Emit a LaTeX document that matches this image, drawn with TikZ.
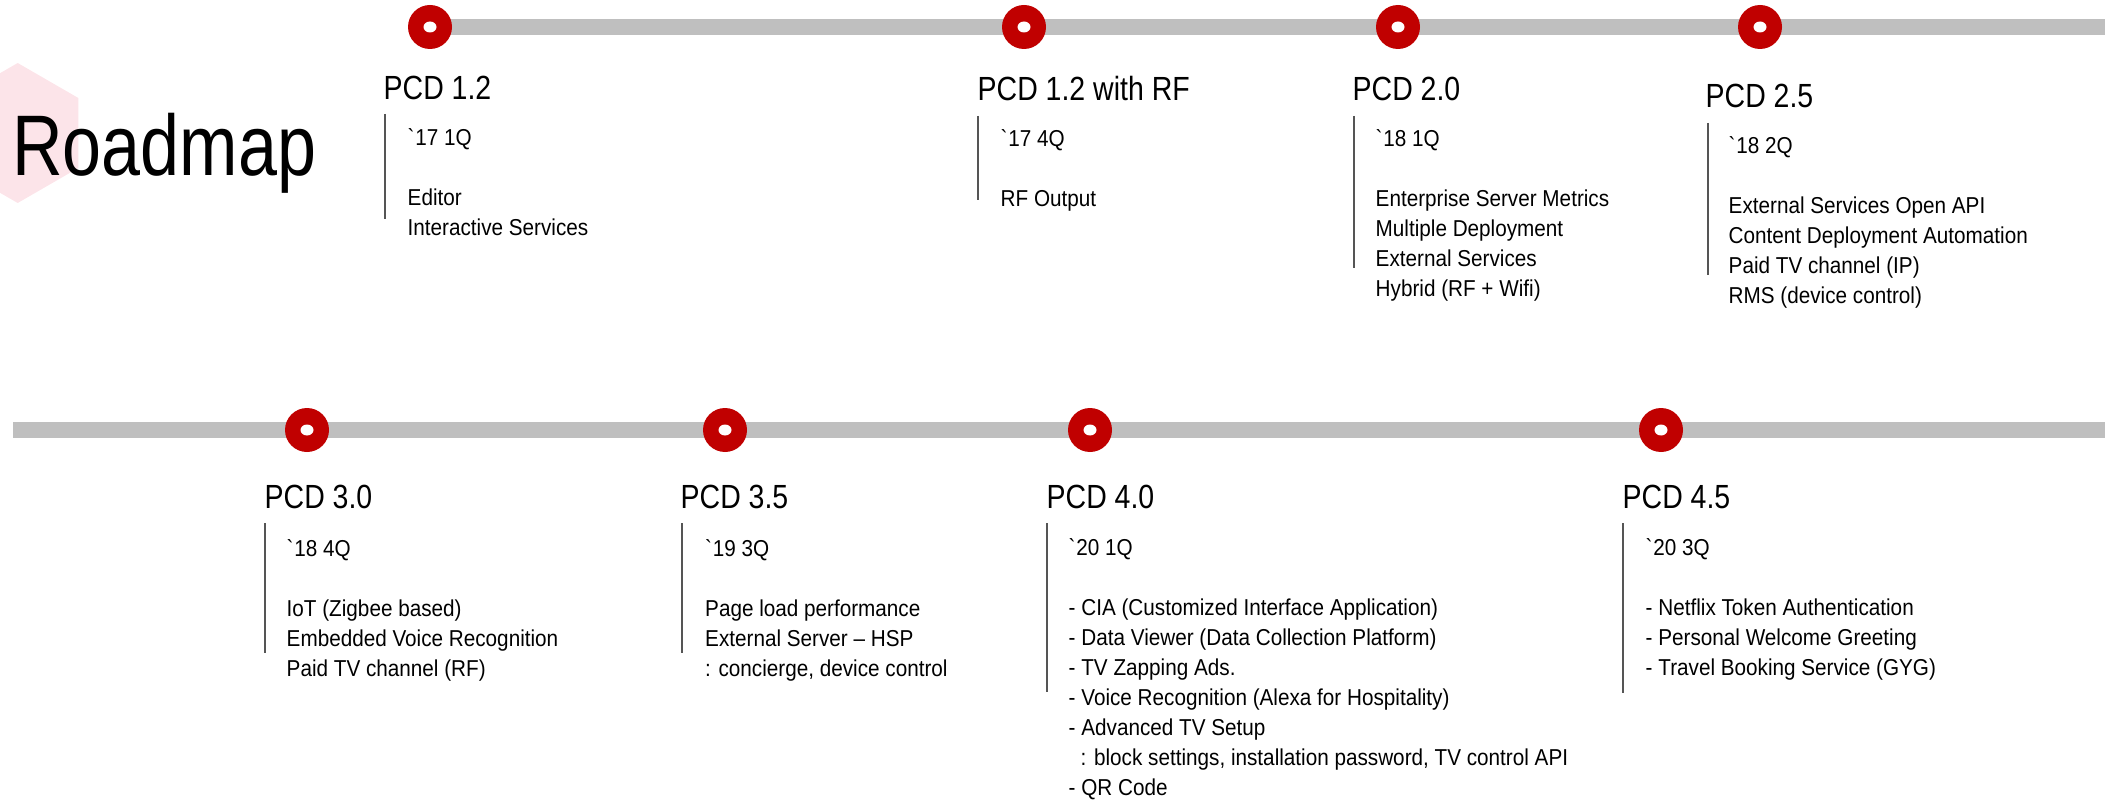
\documentclass[tikz,border=0pt]{standalone}
\usepackage{fontspec}
\setmainfont{Liberation Sans}
\newfontfamily\titlefont[FakeStretch=0.815]{Liberation Sans}
\newfontfamily\headfont[FakeStretch=0.85]{Liberation Sans}
\newfontfamily\bodyfont[FakeStretch=0.90]{Liberation Sans}
\definecolor{mkred}{HTML}{C00000}
\definecolor{trackgray}{HTML}{BFBFBF}
\definecolor{hexpink}{RGB}{252,228,233}
\definecolor{bargray}{HTML}{555555}
\begin{document}
\begin{tikzpicture}[x=1pt,y=-1pt,
  track/.style={draw=trackgray,line width=16pt},
  marker/.style={circle,fill=mkred,minimum size=44pt,inner sep=0pt,
    path picture={\fill[white] (path picture bounding box.center) ellipse (6.5 and 5.5);}},
  heading/.style={anchor=base west,inner sep=0pt,font=\headfont\fontsize{33.5}{40}\selectfont},
  bodytext/.style={anchor=base west,inner sep=0pt,font=\bodyfont\fontsize{23}{30}\selectfont},
  sidebar/.style={draw=bargray,line width=2pt}]
\useasboundingbox (0,0) rectangle (2116,802);
% hexagon
\fill[hexpink] (17.7,133) +(90:70) -- +(30:70) -- +(-30:70) -- +(-90:70) -- +(-150:70) -- +(150:70) -- cycle;
\node[anchor=base west,inner sep=0pt,font=\titlefont\fontsize{86}{100}\selectfont] (title) at (12,176) {Roadmap};
% track coordinates
\coordinate (p1) at (430,27);
\coordinate (p2) at (1024,27);
\coordinate (p3) at (1398,27);
\coordinate (p4) at (1760,27);
\coordinate (tend) at (2105,27);
\coordinate (bstart) at (13,430);
\coordinate (p5) at (307,430);
\coordinate (p6) at (725,430);
\coordinate (p7) at (1090,430);
\coordinate (p8) at (1661,430);
\coordinate (bend) at (2105,430);
\draw[track] (p1) -- (tend);
\draw[track] (bstart) -- (bend);
\foreach \i in {1,...,8} {\node[marker] (m\i) at (p\i) {};}
% ---- top row
% PCD 1.2
\node[heading] (h1) at (383.5,100) {PCD 1.2};
\coordinate (s1a) at (385,114); \coordinate (s1b) at (385,219);
\draw[sidebar] (s1a) -- (s1b);
\node[bodytext] (t1) at (407.5,146) {\vtop{\hbox{\textasciigrave 17 1Q}\hbox{}\hbox{Editor}\hbox{Interactive Services}}};
% PCD 1.2 with RF
\node[heading] (h2) at (977.5,101) {PCD 1.2 with RF};
\coordinate (s2a) at (978,116); \coordinate (s2b) at (978,200);
\draw[sidebar] (s2a) -- (s2b);
\node[bodytext] (t2) at (1000.5,147) {\vtop{\hbox{\textasciigrave 17 4Q}\hbox{}\hbox{RF Output}}};
% PCD 2.0
\node[heading] (h3) at (1352.5,101) {PCD 2.0};
\coordinate (s3a) at (1354,116); \coordinate (s3b) at (1354,268);
\draw[sidebar] (s3a) -- (s3b);
\node[bodytext] (t3) at (1375.5,147) {\vtop{\hbox{\textasciigrave 18 1Q}\hbox{}\hbox{Enterprise Server Metrics}\hbox{Multiple Deployment}\hbox{External Services}\hbox{Hybrid (RF + Wifi)}}};
% PCD 2.5
\node[heading] (h4) at (1705.5,108) {PCD 2.5};
\coordinate (s4a) at (1708,123); \coordinate (s4b) at (1708,275);
\draw[sidebar] (s4a) -- (s4b);
\node[bodytext] (t4) at (1728.5,154) {\vtop{\hbox{\textasciigrave 18 2Q}\hbox{}\hbox{External Services Open API}\hbox{Content Deployment Automation}\hbox{Paid TV channel (IP)}\hbox{RMS (device control)}}};
% ---- bottom row
% PCD 3.0
\node[heading] (h5) at (264.5,508) {PCD 3.0};
\coordinate (s5a) at (265,523); \coordinate (s5b) at (265,653);
\draw[sidebar] (s5a) -- (s5b);
\node[bodytext] (t5) at (286.5,556) {\vtop{\hbox{\textasciigrave 18 4Q}\hbox{}\hbox{IoT (Zigbee based)}\hbox{Embedded Voice Recognition}\hbox{Paid TV channel (RF)}}};
% PCD 3.5
\node[heading] (h6) at (680.5,508) {PCD 3.5};
\coordinate (s6a) at (682,523); \coordinate (s6b) at (682,653);
\draw[sidebar] (s6a) -- (s6b);
\node[bodytext] (t6) at (705,556) {\vtop{\hbox{\textasciigrave 19 3Q}\hbox{}\hbox{Page load performance}\hbox{External Server – HSP}\hbox{: concierge, device control}}};
% PCD 4.0
\node[heading] (h7) at (1046.5,508) {PCD 4.0};
\coordinate (s7a) at (1047,523); \coordinate (s7b) at (1047,692);
\draw[sidebar] (s7a) -- (s7b);
\node[bodytext] (t7) at (1068.5,555) {\vtop{\hbox{\textasciigrave 20 1Q}\hbox{}\hbox{- CIA (Customized Interface Application)}\hbox{- Data Viewer (Data Collection Platform)}\hbox{- TV Zapping Ads.}\hbox{- Voice Recognition (Alexa for Hospitality)}\hbox{- Advanced TV Setup}\hbox{\kern 12pt: block settings, installation password, TV control API}\hbox{- QR Code}}};
% PCD 4.5
\node[heading] (h8) at (1622.5,508) {PCD 4.5};
\coordinate (s8a) at (1623,523); \coordinate (s8b) at (1623,693);
\draw[sidebar] (s8a) -- (s8b);
\node[bodytext] (t8) at (1645.5,555) {\vtop{\hbox{\textasciigrave 20 3Q}\hbox{}\hbox{- Netflix Token Authentication}\hbox{- Personal Welcome Greeting}\hbox{- Travel Booking Service (GYG)}}};
\end{tikzpicture}
\end{document}
